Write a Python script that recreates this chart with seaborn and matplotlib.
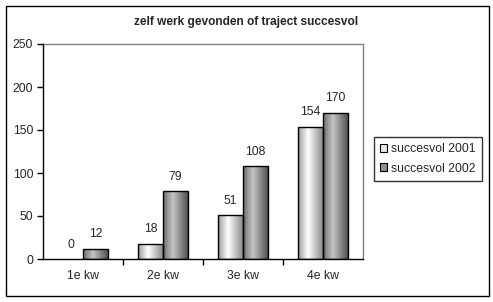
import numpy as np
import pandas as pd
import matplotlib
matplotlib.use("Agg")
import matplotlib.pyplot as plt
import seaborn as sns
from matplotlib.colors import LinearSegmentedColormap
from matplotlib.patches import Rectangle, Patch

categories = ["1e kw", "2e kw", "3e kw", "4e kw"]
series_names = ["succesvol 2001", "succesvol 2002"]
values_2001 = [0, 18, 51, 154]
values_2002 = [12, 79, 108, 170]
title = "zelf werk gevonden of traject succesvol"
yticks = [0, 50, 100, 150, 200, 250]

df = pd.DataFrame({
    "kw": categories * 2,
    "serie": [series_names[0]] * 4 + [series_names[1]] * 4,
    "waarde": values_2001 + values_2002,
})

sns.set_style("white")
plt.rcParams["font.family"] = ["Liberation Sans", "DejaVu Sans"]

FS = 8.8

fig = plt.figure(figsize=(4.93, 3.02), dpi=100)
ax = fig.add_axes([43 / 493, 1 - 259 / 302, 320 / 493, 215 / 302])

sns.barplot(data=df, x="kw", y="waarde", hue="serie", order=categories,
            hue_order=series_names, palette=["#e0e0e0", "#a0a0a0"],
            width=0.625, gap=0, edgecolor="black", linewidth=1.0,
            ax=ax, legend=False)

cmaps = [
    LinearSegmentedColormap.from_list("g1", [(0, "#9a9a9a"), (0.4, "#ffffff"), (1.0, "#8a8a8a")]),
    LinearSegmentedColormap.from_list("g2", [(0, "#6a6a6a"), (0.4, "#c4c4c4"), (1.0, "#505050")]),
]
grad = np.linspace(0, 1, 256).reshape(1, -1)
bars = list(ax.patches)
for i, p in enumerate(bars):
    h = p.get_height()
    if h <= 0:
        p.set_visible(False)
        continue
    cm = cmaps[0] if i < 4 else cmaps[1]
    x0, w = p.get_x(), p.get_width()
    im = ax.imshow(grad, cmap=cm, aspect="auto", extent=[x0, x0 + w, 0, h],
                   zorder=2, interpolation="bilinear")
    im.set_clip_path(p)
    p.set_facecolor("none")
    p.set_zorder(3)
    val = int(round(h))
    ax.annotate(str(val), (x0 + w / 2, h), xytext=(0, 6), textcoords="offset points",
                ha="center", va="bottom", fontsize=FS)

# label for zero bar
for j, v in enumerate(values_2001):
    if v == 0:
        ax.annotate("0", (j - 0.625 / 4, 0), xytext=(0, 6), textcoords="offset points",
                    ha="center", va="bottom", fontsize=FS)

ax.set_xlim(-0.5, 3.5)
ax.set_ylim(0, 250)
ax.set_yticks(yticks)
ax.set_yticklabels([str(t) for t in yticks], fontsize=FS)
ax.set_xticks(range(len(categories)))
ax.set_xticklabels(categories, fontsize=FS)
ax.tick_params(axis="x", length=0, pad=8)
ax.tick_params(axis="y", length=4, width=1, direction="out", left=True, pad=3, color="black")
ax.set_xticks([0.5, 1.5, 2.5], minor=True)
ax.tick_params(axis="x", which="minor", length=4, width=1, direction="out", bottom=True, color="black")
ax.set_xlabel("")
ax.set_ylabel("")

for s in ["left", "bottom"]:
    ax.spines[s].set_color("black")
    ax.spines[s].set_linewidth(1.0)
    ax.spines[s].set_zorder(5)
for s in ["top", "right"]:
    ax.spines[s].set_color("#808080")
    ax.spines[s].set_linewidth(1.0)

fig.text(246 / 493, 1 - 22 / 302, title, ha="center", va="center",
         fontsize=8.6, fontweight="bold")

handles = [Patch(facecolor="#e8e8e8", edgecolor="black", linewidth=0.8),
           Patch(facecolor="#909090", edgecolor="black", linewidth=0.8)]
leg = fig.legend(handles, series_names, loc="center left",
                 bbox_to_anchor=(374 / 493, 1 - 159 / 302), fontsize=FS,
                 frameon=True, fancybox=False, handlelength=0.6, handleheight=0.6,
                 handletextpad=0.3, borderpad=0.5, labelspacing=0.6, borderaxespad=0)
leg.get_frame().set_edgecolor("black")
leg.get_frame().set_linewidth(1.0)

fig.patches.append(Rectangle((5.5 / 493, 1 - 295.5 / 302), 483 / 493, 290 / 302,
                             transform=fig.transFigure, fill=False,
                             edgecolor="black", linewidth=1.0))

fig.savefig("out.png", dpi=100)
